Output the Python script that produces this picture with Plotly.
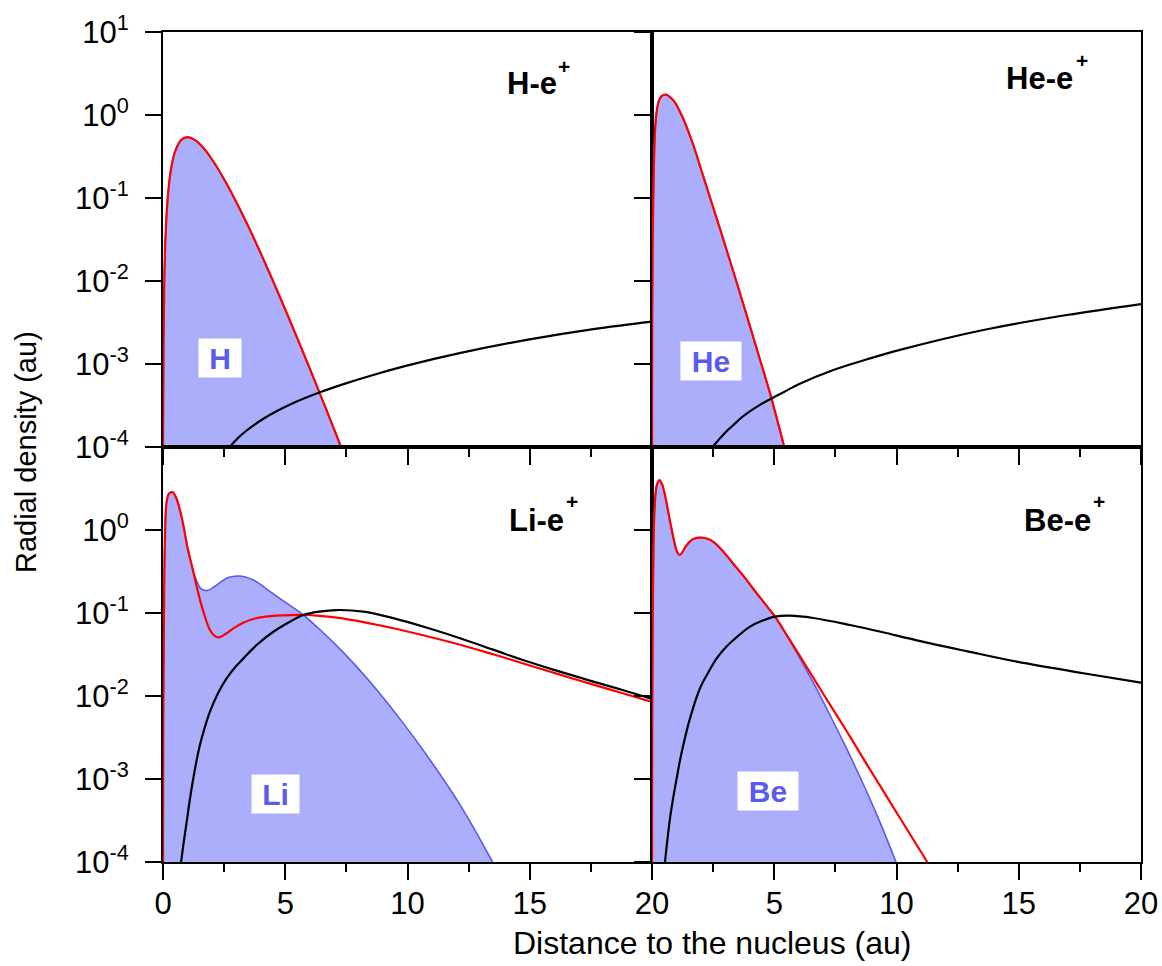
import plotly.graph_objects as go

W, H = 1162, 966

# ---------------- data ----------------
# H-e+ panel
h_x = [0, 0.02, 0.05, 0.1, 0.2, 0.35, 0.5, 0.75, 1.0, 1.3, 1.6, 2.0, 2.5, 3.0, 3.5, 4.0, 4.5, 5.0, 5.5, 6.0, 6.5, 7.0, 7.28]
h_atom = [1e-4, 0.0015, 0.009, 0.033, 0.107, 0.243, 0.368, 0.502, 0.541, 0.502, 0.417, 0.293, 0.168, 0.089,
          0.0447, 0.0215, 0.0100, 0.00454, 0.00202, 0.000885, 0.000382, 0.000163, 0.0001]
h_elec_x = h_x
h_elec = h_atom
h_pos_x = [2.55, 2.74, 3.05, 3.42, 3.9, 4.38, 5.33, 6.42, 7.51, 8.74, 9.97, 12.13, 14.87, 17.6, 20.0]
h_pos = [7.9e-5, 1e-4, 1.27e-4, 1.58e-4, 2.0e-4, 2.45e-4, 3.39e-4, 4.57e-4, 5.89e-4, 7.59e-4, 9.55e-4,
         1.35e-3, 1.95e-3, 2.63e-3, 3.24e-3]

# He-e+ panel
he_x = [0, 0.01, 0.03, 0.07, 0.13, 0.2, 0.28, 0.4, 0.57, 0.75, 0.94, 1.1, 1.28, 1.48, 1.69, 2.1, 2.78, 3.6,
        4.42, 4.83, 5.41]
he_atom = [1e-4, 0.004, 0.035, 0.2, 0.7, 1.15, 1.48, 1.7, 1.76, 1.63, 1.42, 1.16, 0.9, 0.64, 0.435, 0.181,
           0.0427, 0.0071, 0.00112, 0.00044, 0.0001]
he_elec_x = he_x
he_elec = he_atom
he_pos_x = [2.3, 2.48, 2.78, 3.05, 3.33, 3.65, 4.0, 4.4, 4.83, 5.4, 6.0, 7.42, 8.8, 10.14, 13.55, 16.96, 20.0]
he_pos = [7.9e-5, 1e-4, 1.27e-4, 1.55e-4, 1.84e-4, 2.25e-4, 2.69e-4, 3.2e-4, 3.76e-4, 4.6e-4, 5.7e-4,
          8.47e-4, 1.14e-3, 1.48e-3, 2.57e-3, 3.89e-3, 5.28e-3]

# Li-e+ panel
li_atom_x = [0, 0.01, 0.04, 0.08, 0.15, 0.25, 0.4, 0.55, 0.7, 0.83, 1.0, 1.24, 1.4, 1.55, 1.79, 2.0, 2.19, 2.4,
             2.6, 2.85, 3.08, 3.4, 3.69, 4.0, 4.38, 5.0, 5.74, 6.4, 7.1, 7.9, 8.74, 9.8, 10.8, 12.15, 13.48]
li_atom = [1e-4, 0.005, 0.1, 0.8, 2.2, 2.75, 2.85, 2.4, 1.7, 1.15, 0.62, 0.315, 0.235, 0.196, 0.186, 0.198,
           0.217, 0.24, 0.262, 0.275, 0.279, 0.27, 0.25, 0.22, 0.181, 0.135, 0.0946, 0.0637, 0.0405, 0.0229,
           0.01186, 0.00481, 0.00191, 0.000488, 0.0001]
li_elec_x = [0, 0.01, 0.04, 0.08, 0.15, 0.25, 0.4, 0.55, 0.7, 0.83, 1.0, 1.24, 1.45, 1.65, 1.92, 2.1, 2.26,
             2.43, 2.6, 2.88, 3.28, 3.69, 4.2, 4.65, 5.2, 5.74, 6.4, 7.1, 8.2, 9.42, 10.8, 12.15, 13.5, 14.87,
             16.2, 17.6, 18.8, 20.0]
li_elec = [1e-4, 0.005, 0.1, 0.8, 2.2, 2.75, 2.85, 2.4, 1.7, 1.15, 0.62, 0.315, 0.17, 0.104, 0.0624, 0.0535,
           0.0509, 0.053, 0.057, 0.0653, 0.0762, 0.0848, 0.0905, 0.093, 0.0945, 0.0946, 0.0925, 0.0879,
           0.0778, 0.0655, 0.0525, 0.0415, 0.0318, 0.0240, 0.0182, 0.0137, 0.0108, 0.0085]
li_pos_x = [0.6, 0.74, 0.85, 0.97, 1.1, 1.24, 1.37, 1.51, 1.7, 1.92, 2.25, 2.6, 2.95, 3.29, 3.83, 4.5, 5.19,
            5.74, 6.4, 7.1, 8.2, 9.42, 10.8, 12.15, 13.5, 14.87, 16.2, 17.6, 18.8, 20.0]
li_pos = [4.5e-5, 1e-4, 1.75e-4, 3.06e-4, 5.7e-4, 1.02e-3, 1.65e-3, 2.57e-3, 4.1e-3, 6.47e-3, 0.0108, 0.0163,
          0.0222, 0.0284, 0.0411, 0.059, 0.0785, 0.0946, 0.104, 0.1086, 0.104, 0.0868, 0.0665, 0.0497, 0.0362,
          0.0262, 0.0198, 0.0149, 0.0118, 0.0092]

# Be-e+ panel
be_atom_x = [0, 0.01, 0.03, 0.06, 0.12, 0.2, 0.3, 0.42, 0.53, 0.64, 0.74, 0.84, 0.94, 1.03, 1.12, 1.22, 1.42,
             1.69, 2.03, 2.3, 2.51, 2.92, 3.33, 3.8, 4.28, 4.65, 5.03, 5.5, 6.05, 6.6, 7.21, 7.85, 8.53, 9.25, 9.98]
be_atom = [1e-4, 0.005, 0.1, 0.6, 2.2, 3.5, 4.0, 3.5, 2.64, 1.8, 1.26, 0.9, 0.66, 0.54, 0.50, 0.53, 0.66,
           0.78, 0.81, 0.78, 0.72, 0.548, 0.39, 0.265, 0.173, 0.126, 0.0904, 0.0545, 0.0284, 0.01445, 0.00646,
           0.0027, 0.00102, 3.4e-4, 0.0001]
be_elec_x = [0, 0.01, 0.03, 0.06, 0.12, 0.2, 0.3, 0.42, 0.53, 0.64, 0.74, 0.84, 0.94, 1.03, 1.12, 1.22, 1.42,
             1.69, 2.03, 2.3, 2.51, 2.92, 3.33, 3.8, 4.28, 4.65, 5.03, 5.5, 6.05, 6.7, 7.42, 8.1, 8.78, 9.45,
             10.14, 10.7, 11.26]
be_elec = [1e-4, 0.005, 0.1, 0.6, 2.2, 3.5, 4.0, 3.5, 2.64, 1.8, 1.26, 0.9, 0.66, 0.54, 0.50, 0.53, 0.66,
           0.78, 0.81, 0.78, 0.72, 0.548, 0.39, 0.265, 0.173, 0.126, 0.0904, 0.0550, 0.0302, 0.0148, 0.00676,
           0.00324, 0.00151, 7.24e-4, 3.39e-4, 1.84e-4, 0.0001]
be_pos_x = [0.4, 0.53, 0.63, 0.736, 0.87, 1.01, 1.14, 1.28, 1.554, 1.963, 2.3, 2.645, 3.0, 3.33, 4.01, 4.5,
            5.03, 5.64, 6.6, 8.1, 9.4, 10.83, 12.9, 14.92, 17.64, 20.0]
be_pos = [4e-5, 1e-4, 1.85e-4, 3.36e-4, 6.0e-4, 1.02e-3, 1.65e-3, 2.57e-3, 5.38e-3, 0.0124, 0.0192, 0.0284,
          0.0382, 0.0473, 0.0684, 0.0805, 0.0904, 0.0929, 0.0871, 0.0716, 0.059, 0.0468, 0.0345, 0.0259,
          0.0188, 0.0145]

panel_titles = ["H-e", "He-e", "Li-e", "Be-e"]
atom_labels = ["H", "He", "Li", "Be"]
x_ticks = [0, 5, 10, 15, 20]
x_minor = [2.5, 7.5, 12.5, 17.5]
y_ticks_top = [1e1, 1e0, 1e-1, 1e-2, 1e-3, 1e-4]
y_text_top = ["10<sup>1</sup>", "10<sup>0</sup>", "10<sup>-1</sup>", "10<sup>-2</sup>", "10<sup>-3</sup>", "10<sup>-4</sup>"]
y_ticks_bot = [1e0, 1e-1, 1e-2, 1e-3, 1e-4]
y_text_bot = ["10<sup>0</sup>", "10<sup>-1</sup>", "10<sup>-2</sup>", "10<sup>-3</sup>", "10<sup>-4</sup>"]

# ---------------- style ----------------
FONT = "Liberation Sans, Arial, sans-serif"
FILL = "rgba(170,174,251,1)"
BLUE = "#5A5AF0"
RED = "#FF0000"

def px(v):
    return v / W

def py(v):
    return 1 - v / H

dom_x = [[px(163), px(652)], [px(652), px(1141)]]
dom_y_top = [py(447), py(32)]
dom_y_bot = [py(862), py(447)]

fig = go.Figure()

panels = [
    (h_x, h_atom, h_elec_x, h_elec, h_pos_x, h_pos),
    (he_x, he_atom, he_elec_x, he_elec, he_pos_x, he_pos),
    (li_atom_x, li_atom, li_elec_x, li_elec, li_pos_x, li_pos),
    (be_atom_x, be_atom, be_elec_x, be_elec, be_pos_x, be_pos),
]

SM = 1.0
for i, (ax, ay, ex, ey, qx, qy) in enumerate(panels):
    n = i + 1
    xa = "x" if n == 1 else f"x{n}"
    ya = "y" if n == 1 else f"y{n}"
    fig.add_trace(go.Scatter(x=[ax[0], ax[-1]], y=[1e-5, 1e-5], mode="lines",
                             line=dict(width=0, color=FILL), xaxis=xa, yaxis=ya,
                             showlegend=False, hoverinfo="skip"))
    fig.add_trace(go.Scatter(x=ax, y=ay, mode="lines", fill="tonexty", fillcolor=FILL,
                             line=dict(color=BLUE, width=1.6, shape="spline", smoothing=SM),
                             xaxis=xa, yaxis=ya, showlegend=False))
    fig.add_trace(go.Scatter(x=ex, y=ey, mode="lines",
                             line=dict(color=RED, width=2.2, shape="spline", smoothing=SM),
                             xaxis=xa, yaxis=ya, showlegend=False))
    fig.add_trace(go.Scatter(x=qx, y=qy, mode="lines",
                             line=dict(color="black", width=2.2, shape="spline", smoothing=SM),
                             xaxis=xa, yaxis=ya, showlegend=False))

def xaxis(dom, anchor, labels):
    return dict(domain=dom, anchor=anchor, range=[0, 20], showgrid=False, zeroline=False,
                automargin=False,
                showline=True, linecolor="black", linewidth=2, mirror=True,
                ticks="outside", ticklen=16, tickwidth=2, tickcolor="black",
                tickvals=x_ticks, ticktext=labels, showticklabels=labels is not None,
                ticklabelstandoff=-3,
                tickfont=dict(family=FONT, size=31, color="black"),
                minor=dict(tickvals=x_minor, ticks="outside", ticklen=8, tickwidth=2, tickcolor="black"))

def yaxis(dom, anchor, vals, texts, show):
    return dict(domain=dom, anchor=anchor, type="log", range=[-4, 1], showgrid=False, zeroline=False,
                automargin=False,
                showline=True, linecolor="black", linewidth=2, mirror=True,
                ticks="outside", ticklen=16, tickwidth=2, tickcolor="black",
                tickvals=vals, ticktext=texts, showticklabels=show, ticklabelstandoff=10,
                tickfont=dict(family=FONT, size=31, color="black"))

fig.update_layout(
    width=W, height=H, margin=dict(l=0, r=0, t=0, b=0, autoexpand=False),
    paper_bgcolor="white", plot_bgcolor="white", showlegend=False,
    xaxis=xaxis(dom_x[0], "y", None),
    yaxis=yaxis(dom_y_top, "x", y_ticks_top, y_text_top, True),
    xaxis2=xaxis(dom_x[1], "y2", None),
    yaxis2=yaxis(dom_y_top, "x2", y_ticks_top, y_text_top, False),
    xaxis3=xaxis(dom_x[0], "y3", ["0", "5", "10", "15", "20"]),
    yaxis3=yaxis(dom_y_bot, "x3", y_ticks_bot, y_text_bot, True),
    xaxis4=xaxis(dom_x[1], "y4", ["", "5", "10", "15", "20"]),
    yaxis4=yaxis(dom_y_bot, "x4", y_ticks_bot, y_text_bot, False),
)

ann = []
title_pos = [(531.7, 84), (1039, 79), (536.7, 520), (1057, 520)]
plus_pos = [(564, 66), (1081.5, 60), (572, 502), (1098.7, 502)]
for t, (cx, cy), (sx, sy) in zip(panel_titles, title_pos, plus_pos):
    ann.append(dict(text=f"<b>{t}</b>", x=px(cx), y=py(cy), xref="paper", yref="paper",
                    xanchor="center", yanchor="middle", showarrow=False,
                    font=dict(family=FONT, size=31, color="black")))
    ann.append(dict(text="<b>+</b>", x=px(sx), y=py(sy), xref="paper", yref="paper",
                    xanchor="center", yanchor="middle", showarrow=False,
                    font=dict(family=FONT, size=21, color="black")))

label_pos = [(220, 358, 42), (711, 361, 60), (275.5, 794, 47), (768, 791, 60)]
for t, (cx, cy, w) in zip(atom_labels, label_pos):
    ann.append(dict(text=f"<b>{t}</b>", x=px(cx), y=py(cy), xref="paper", yref="paper",
                    xanchor="center", yanchor="middle", showarrow=False,
                    bgcolor="white", borderpad=0, width=w, height=38,
                    font=dict(family=FONT, size=30, color=BLUE)))

ann.append(dict(text="Distance to the nucleus (au)", x=px(712), y=py(943), xref="paper", yref="paper",
                xanchor="center", yanchor="middle", showarrow=False,
                font=dict(family=FONT, size=32, color="black")))
ann.append(dict(text="Radial density (au)", x=px(26), y=py(452), xref="paper", yref="paper",
                xanchor="center", yanchor="middle", showarrow=False, textangle=-90,
                font=dict(family=FONT, size=29, color="black")))

fig.update_layout(annotations=ann)
fig.write_html("out.html")
